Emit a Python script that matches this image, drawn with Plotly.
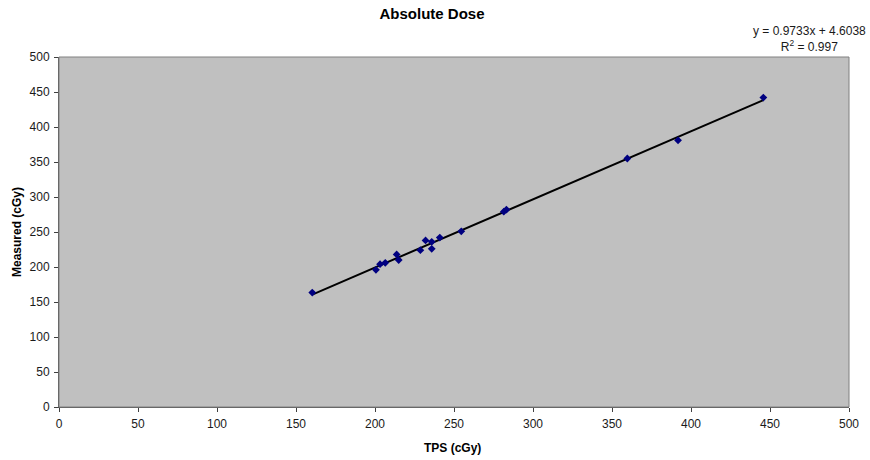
import numpy as np
import plotly.graph_objects as go

# Data
tps_cgy = [160.3, 200.6, 203.2, 206.5, 213.7, 215.0, 228.7, 232.0, 235.9, 235.9,
           241.0, 254.6, 281.5, 283.2, 359.7, 391.8, 445.8]
measured_cgy = [163.5, 196.0, 204.0, 206.0, 218.0, 210.0, 224.0, 238.0, 236.0, 226.0,
                242.0, 251.0, 279.0, 282.0, 355.0, 381.0, 442.0]

slope = 0.9733
intercept = 4.6038
r_squared = 0.997

axis_ticks = [0, 50, 100, 150, 200, 250, 300, 350, 400, 450, 500]

FONT = "Liberation Sans, Arial, sans-serif"

W, H = 870, 460
L, R, T, B = 59, 21, 57, 53
PW = W - L - R   # plot width in px
PH = H - T - B   # plot height in px


def px_x(page_x):
    return (page_x - L) / PW


def px_y(page_y):
    return (H - B - page_y) / PH


fig = go.Figure()

# Trend line from min to max x
x_line = np.array([min(tps_cgy), max(tps_cgy)])
y_line = slope * x_line + intercept
fig.add_trace(go.Scatter(
    x=x_line, y=y_line, mode="lines",
    line=dict(color="black", width=2),
    hoverinfo="skip", showlegend=False,
))

fig.add_trace(go.Scatter(
    x=tps_cgy, y=measured_cgy, mode="markers",
    marker=dict(symbol="diamond", size=6, color="#000080",
                line=dict(width=0)),
    showlegend=False,
))

fig.update_layout(
    width=W, height=H,
    margin=dict(l=L, r=R, t=T, b=B, autoexpand=False),
    paper_bgcolor="white",
    plot_bgcolor="#C0C0C0",
    font=dict(family=FONT, size=12, color="#1a1a1a"),
    title=dict(text="<b>Absolute Dose</b>", x=432 / W, xref="container",
               xanchor="center", y=1 - 14 / H, yanchor="middle",
               font=dict(family=FONT, size=15, color="black")),
    showlegend=False,
)

fig.update_xaxes(
    range=[0, 500], tickvals=axis_ticks, showgrid=False, zeroline=False,
    showline=True, linecolor="#505050", linewidth=1, automargin=False,
    ticks="outside", ticklen=4, tickcolor="#404040", ticklabelstandoff=2,
    tickfont=dict(family=FONT, size=12, color="#1a1a1a"),
)
fig.update_yaxes(
    range=[0, 500], tickvals=axis_ticks, showgrid=False, zeroline=False,
    showline=True, linecolor="#505050", linewidth=1, automargin=False,
    ticks="outside", ticklen=4, tickcolor="#404040", ticklabelstandoff=2,
    tickfont=dict(family=FONT, size=12, color="#1a1a1a"),
)

# plot-area border (top/right)
fig.add_shape(type="rect", xref="paper", yref="paper", x0=0, y0=0, x1=1, y1=1,
              line=dict(color="#808080", width=1), fillcolor="rgba(0,0,0,0)",
              layer="above")

# axis titles
fig.add_annotation(
    xref="paper", yref="paper", x=px_x(452), y=px_y(448),
    xanchor="center", yanchor="middle", showarrow=False,
    text="<b>TPS (cGy)</b>", font=dict(family=FONT, size=12, color="black"),
)
fig.add_annotation(
    xref="paper", yref="paper", x=px_x(17), y=0.5, textangle=-90,
    xanchor="center", yanchor="middle", showarrow=False,
    text="<b>Measured (cGy)</b>", font=dict(family=FONT, size=12, color="black"),
)

# trendline equation
fig.add_annotation(
    xref="paper", yref="paper", x=px_x(809), y=px_y(39),
    xanchor="center", yanchor="middle", align="center", showarrow=False,
    text=f"y = {slope}x + {intercept}<br>R<sup>2</sup> = {r_squared}",
    font=dict(family=FONT, size=12, color="#1a1a1a"),
)

fig.write_html(
    "out.html",
    config={"displayModeBar": False},
    post_script="document.body.style.margin='0';document.body.style.overflow='hidden';",
)
